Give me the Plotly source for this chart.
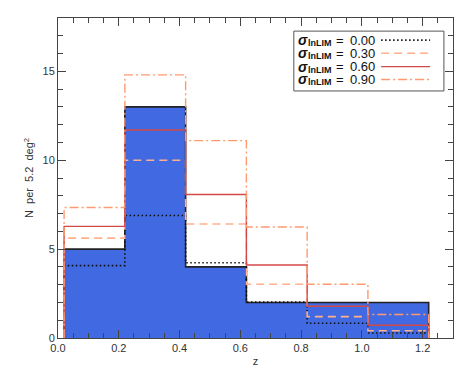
import plotly.graph_objects as go

# ---- data ----
bin_edges = [0.02, 0.22, 0.42, 0.62, 0.82, 1.02, 1.22]
n_observed = [5.0, 13.0, 4.0, 2.0, 2.0, 2.0]
n_sigma_000 = [4.07, 6.89, 4.23, 2.02, 0.83, 0.28]
n_sigma_030 = [5.62, 10.0, 6.41, 3.02, 1.20, 0.41]
n_sigma_060 = [6.28, 11.7, 8.07, 4.11, 1.79, 0.72]
n_sigma_090 = [7.34, 14.8, 11.1, 6.24, 3.02, 1.32]
sigma_labels = ["0.00", "0.30", "0.60", "0.90"]
x_tick_vals = [0.0, 0.2, 0.4, 0.6, 0.8, 1.0, 1.2]
x_tick_text = ["0.0", "0.2", "0.4", "0.6", "0.8", "1.0", "1.2"]
y_tick_vals = [0, 5, 10, 15]
y_tick_text = ["0", "5", "10", "15"]

FONT = "Liberation Sans, Arial, sans-serif"

def step(vals):
    xs = [bin_edges[0]] + list(bin_edges) + [bin_edges[-1]]
    ys = [0] + list(vals) + [vals[-1], 0]
    return xs, ys

fig = go.Figure()

xs, ys = step(n_observed)
fig.add_trace(go.Scatter(x=xs, y=ys, mode="lines", line_shape="hv",
                         fill="tozeroy", fillcolor="#4169E1",
                         line=dict(color="#222222", width=1.6),
                         showlegend=False, hoverinfo="skip"))

styles = [
    dict(color="#111111", dash="1.5px,2.5px", width=1.6),
    dict(color="#FFB08E", dash="8px,5px", width=1.6),
    dict(color="#D24A48", dash="solid", width=1.4),
    dict(color="#FF9A70", dash="9px,3px,2px,3px", width=1.4),
]
series = [n_sigma_000, n_sigma_030, n_sigma_060, n_sigma_090]
for vals, st in zip(series, styles):
    xs, ys = step(vals)
    fig.add_trace(go.Scatter(x=xs, y=ys, mode="lines", line_shape="hv",
                             line=st, showlegend=False, hoverinfo="skip"))

# ---- manual legend (text left, line sample right) ----
fig.add_shape(type="rect", xref="paper", yref="paper",
              x0=0.597, x1=0.977, y0=0.772, y1=0.959,
              line=dict(color="#555555", width=1), fillcolor="white", layer="above")
row_y = [0.931, 0.890, 0.848, 0.808]
for lab, st, yy in zip(sigma_labels, styles, row_y):
    fig.add_annotation(xref="paper", yref="paper", x=0.604, y=yy,
                       xanchor="left", yanchor="middle", showarrow=False, borderpad=0,
                       text="<b><i>σ</i></b>",
                       font=dict(family=FONT, size=14, color="#111111"))
    fig.add_annotation(xref="paper", yref="paper", x=0.630, y=yy, yshift=-3,
                       xanchor="left", yanchor="middle", showarrow=False, borderpad=0,
                       text="<b>lnLIM</b>",
                       font=dict(family=FONT, size=9, color="#111111"))
    fig.add_annotation(xref="paper", yref="paper", x=0.701, y=yy,
                       xanchor="left", yanchor="middle", showarrow=False, borderpad=0,
                       text="=",
                       font=dict(family=FONT, size=13, color="#111111"))
    fig.add_annotation(xref="paper", yref="paper", x=0.737, y=yy,
                       xanchor="left", yanchor="middle", showarrow=False, borderpad=0,
                       text=lab,
                       font=dict(family=FONT, size=13, color="#111111"))
    fig.add_shape(type="line", xref="paper", yref="paper",
                  x0=0.818, x1=0.942, y0=yy, y1=yy, line=st, layer="above")

axis_common = dict(showline=True, linecolor="#444444", linewidth=1, mirror="ticks",
                   ticks="inside", ticklen=8, tickcolor="#444444", showgrid=False,
                   zeroline=False, automargin=False,
                   tickfont=dict(family=FONT, size=11, color="#333333"))

NB = "\u00a0"
fig.update_xaxes(range=[0, 1.3], tickvals=x_tick_vals, ticktext=x_tick_text,
                 minor=dict(dtick=0.05, tick0=0, ticks="inside", ticklen=5, tickcolor="#444444"),
                 title=dict(text="z", font=dict(family=FONT, size=11, color="#333333"),
                            standoff=4),
                 **axis_common)
fig.update_yaxes(range=[0, 18], tickvals=y_tick_vals, ticktext=y_tick_text,
                 minor=dict(dtick=1, tick0=0, ticks="inside", ticklen=5, tickcolor="#444444"),
                 title=dict(text="N" + NB + NB + "per" + NB + NB + "5.2" + NB + NB + "deg<sup>2</sup>",
                            font=dict(family=FONT, size=11, color="#333333"),
                            standoff=6),
                 **axis_common)

# page body has an 8px default margin; compensate so the plot area lands at
# x 58..453, y 18..338 in the 469x375 window
fig.update_layout(width=453, height=359, margin=dict(l=50, r=8, t=10, b=29),
                  plot_bgcolor="white", paper_bgcolor="white", showlegend=False)

fig.write_html("out.html")
